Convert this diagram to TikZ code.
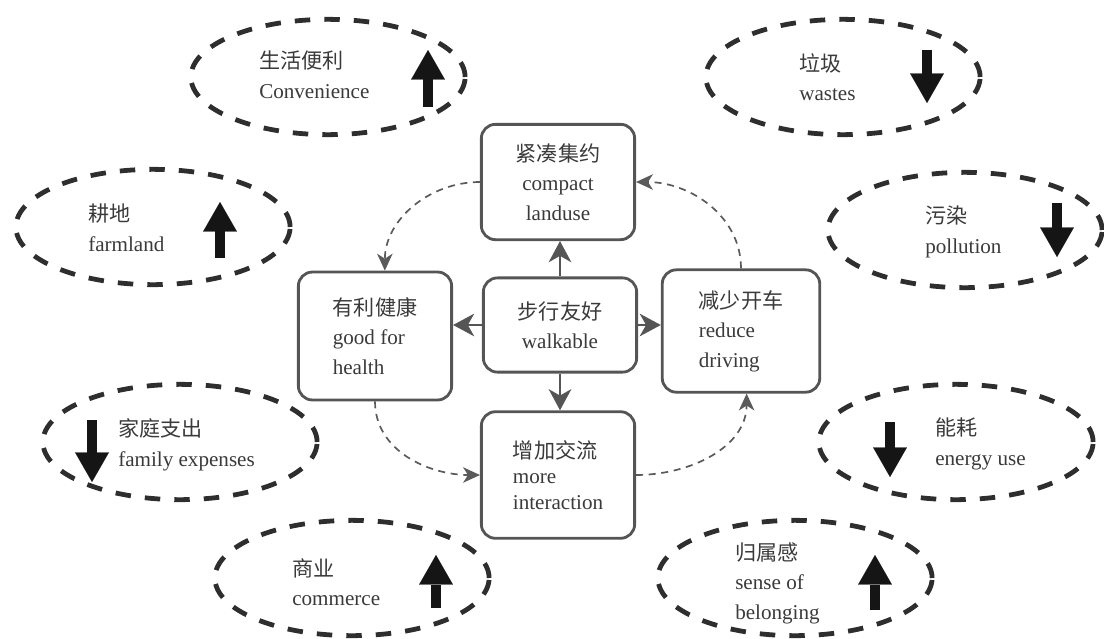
\documentclass[tikz,border=0pt]{standalone}
\usepackage{fontspec}
\setmainfont{Liberation Serif}
\newfontfamily\cjk{Noto Sans CJK SC}
\usepackage{xcolor}
\usepackage{tikz}
\usetikzlibrary{arrows.meta,positioning,shapes.geometric}

\definecolor{inkgray}{HTML}{3A3A3A}
\definecolor{boxgray}{HTML}{555555}
\definecolor{dashgray}{HTML}{2E2E2E}
\definecolor{linkgray}{HTML}{5A5A5A}
\definecolor{trendblack}{HTML}{151515}

\begin{document}
\begin{tikzpicture}[x=0.025cm, y=-0.025cm,
  every node/.style={font=\fontsize{15}{21}\selectfont, text=inkgray},
  block/.style={rectangle, draw=boxgray, line width=2pt, rounded corners=10pt, minimum width=109pt, align=center},
  leftblock/.style={block, align=left},
  effect/.style={ellipse, draw=dashgray, line width=3.4pt, dash pattern=on 11pt off 10pt, minimum width=195pt, minimum height=82pt, inner sep=0pt},
  effecttext/.style={align=left, anchor=west, inner sep=0pt},
  mainarrow/.style={draw=boxgray, line width=2pt, -{Stealth[length=15pt,width=16pt,inset=4.5pt]}},
  feedback/.style={draw=linkgray, line width=1.2pt, dash pattern=on 5pt off 4pt, -{Stealth[length=12pt,width=11pt,inset=3.5pt]}},
  trend/.style={draw=trendblack, line width=7pt, -{Triangle[length=21pt,width=24pt,line width=0.1pt]}}
]
\useasboundingbox (0,0) rectangle (1104,638);

% Centre - walkable and its four effects
\node[block, minimum height=67pt] (walk) at (560,325) {{\cjk 步行友好}\\walkable};
\node[block, minimum height=82pt] (compact) at (558,182) {{\cjk 紧凑集约}\\compact\\landuse};
\node[leftblock, minimum height=91pt] (health) at (375,336) {{\cjk 有利健康}\\good for\\health};
\node[leftblock, minimum height=87pt, minimum width=112pt] (reduce) at (741,331) {{\cjk 减少开车}\\reduce\\driving};
\node[leftblock, minimum height=90pt, font=\fontsize{15}{18}\selectfont] (inter) at (558,475) {{\cjk 增加交流}\\more\\interaction};

% Dashed ellipses - left side
\node[effect] (conv) at (328,77) {};
\node[effect] (farm) at (153,227) {};
\node[effect] (family) at (180,442) {};
\node[effect] (commerce) at (352,578) {};

% Dashed ellipses - right side
\node[effect] (wastes) at (843,77) {};
\node[effect] (pollution) at (965,230) {};
\node[effect] (energy) at (956,442) {};
\node[effect] (belong) at (795,578) {};

% Ellipse texts
\node[effecttext] (convtext) at (259,75) {{\cjk 生活便利}\\Convenience};
\node[effecttext] (farmtext) at (88,228) {{\cjk 耕地}\\farmland};
\node[effecttext] (familytext) at (118,445) {{\cjk 家庭支出}\\family expenses};
\node[effecttext] (commercetext) at (292,582) {{\cjk 商业}\\commerce};
\node[effecttext] (wastestext) at (799,77) {{\cjk 垃圾}\\wastes};
\node[effecttext] (pollutiontext) at (925,232) {{\cjk 污染}\\pollution};
\node[effecttext] (energytext) at (935,444) {{\cjk 能耗}\\energy use};
\node[effecttext] (belongtext) at (735,583) {{\cjk 归属感}\\sense of\\belonging};

% Trend arrows - up
\draw[trend] (428,107) -- (428,50);
\draw[trend] (220,258) -- (220,202);
\draw[trend] (436,608) -- (436,555);
\draw[trend] (875,610) -- (875,555);

% Trend arrows - down
\draw[trend] (92,420) -- (92,482);
\draw[trend] (927,50) -- (927,103);
\draw[trend] (1057,203) -- (1057,257);
\draw[trend] (890,422) -- (890,477);

% Arrows - walkable to its effects
\draw[mainarrow] (walk.north) -- (walk.north |- compact.south);
\draw[mainarrow] (walk.west) -- (walk.west -| health.east);
\draw[mainarrow] (walk.east) -- (walk.east -| reduce.west);
\draw[mainarrow] (walk.south) -- (walk.south |- inter.north);

% Dashed arrows - the outer cycle
\draw[feedback] (compact.west) to[out=180, in=90] ([xshift=7pt]health.north);
\draw[feedback] (health.south) to[out=-90, in=180] (inter.west);
\draw[feedback] (inter.east) to[out=0, in=-90] ([xshift=4pt]reduce.south);
\draw[feedback] (reduce.north) to[out=90, in=0] (compact.east);

\end{tikzpicture}
\end{document}
